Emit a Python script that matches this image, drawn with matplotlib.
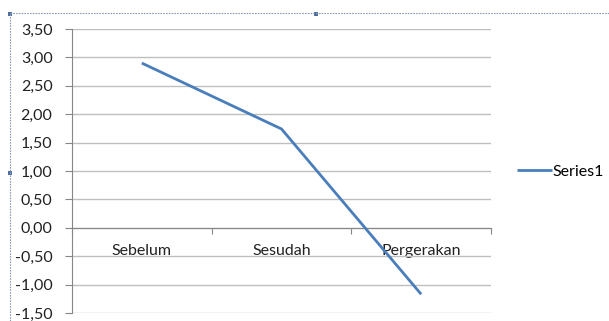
import matplotlib
matplotlib.use("Agg")
import matplotlib.pyplot as plt
from matplotlib.lines import Line2D
from matplotlib.patches import Rectangle

categories = ["Sebelum", "Sesudah", "Pergerakan"]
values = [2.90, 1.74, -1.17]
series_name = "Series1"
y_ticks = [-1.5, -1.0, -0.5, 0.0, 0.5, 1.0, 1.5, 2.0, 2.5, 3.0, 3.5]
y_labels = ["-1,50", "-1,00", "-0,50", "0,00", "0,50", "1,00", "1,50", "2,00", "2,50", "3,00", "3,50"]

plt.rcParams['font.family'] = ['Lato', 'DejaVu Sans']
W, H = 609, 321
fig = plt.figure(figsize=(W / 100, H / 100), dpi=100)
ax = fig.add_axes([72 / W, 1 - 313 / H, (491 - 72) / W, (313 - 29) / H])

line_color = "#4A7EBB"
grid_color = "#BFBFBF"
axis_color = "#868686"
fs = 11.5

x = list(range(len(categories)))
ln, = ax.plot(x, values, color=line_color, lw=2.0, solid_capstyle='butt', zorder=3)

ax.set_xlim(-0.5, len(categories) - 0.5)
ax.set_ylim(-1.5, 3.5)
ax.set_xticks([-0.5 + i for i in range(len(categories) + 1)], minor=True)
ax.set_xticks(x)
ax.set_xticklabels(categories)
ax.set_yticks(y_ticks)
ax.set_yticklabels(y_labels)
ax.yaxis.grid(True, color=grid_color, lw=1.0)
ax.set_axisbelow(True)
ax.tick_params(axis='y', length=5, width=0.8, color=axis_color, pad=9,
               labelsize=fs, labelcolor="#222222")
ax.tick_params(axis='x', which='major', length=0, pad=12,
               labelsize=fs, labelcolor="#222222")
ax.tick_params(axis='x', which='minor', length=4, width=0.8, color=axis_color, direction='out')

ax.spines['bottom'].set_position(('data', 0))
ax.spines['bottom'].set_color(axis_color)
ax.spines['left'].set_color(axis_color)
ax.spines['top'].set_visible(False)
ax.spines['right'].set_visible(False)

# legend
fig.legend([ln], [series_name], loc='center left', bbox_to_anchor=(517 / W, 1 - 172 / H),
           frameon=False, fontsize=fs, handlelength=2.2, handletextpad=0.05,
           borderaxespad=0, borderpad=0)

# selection frame
frame_color = "#8A9BB5"
fig.add_artist(Line2D([10 / W, 1.0], [1 - 13 / H, 1 - 13 / H], transform=fig.transFigure,
                      color=frame_color, lw=0.8, ls=(0, (1.5, 1))))
fig.add_artist(Line2D([10 / W, 10 / W], [0, 1 - 13 / H], transform=fig.transFigure,
                      color=frame_color, lw=0.8, ls=(0, (1.5, 1))))
handle_color = "#4F6F9F"
for hx, hy in [(10, 13), (316, 13), (10, 172)]:
    fig.add_artist(Rectangle(((hx - 2) / W, 1 - (hy + 3) / H), 4 / W, 4 / H,
                             transform=fig.transFigure, color=handle_color, lw=0))

fig.savefig("out.png", dpi=100)
